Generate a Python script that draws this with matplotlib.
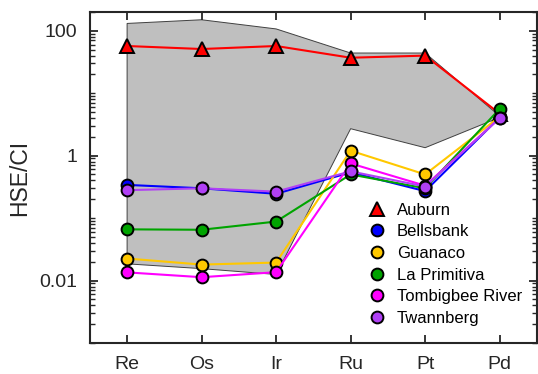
import numpy as np
import matplotlib
matplotlib.use("Agg")
import matplotlib.pyplot as plt
from matplotlib.ticker import LogLocator, FixedLocator, FixedFormatter, NullFormatter

plt.rcParams['font.family'] = ['Liberation Sans', 'DejaVu Sans']

elements = ["Re", "Os", "Ir", "Ru", "Pt", "Pd"]

# grey field (range of values)
band_upper = [131, 150, 107, 44, 44, 4.3]
band_lower = [0.0185, 0.0155, 0.0125, 2.7, 1.34, 4.1]

auburn = [57, 51, 57, 37, 40, 4.7]
bellsbank = [0.34, 0.30, 0.245, 0.54, 0.27, 4.1]
guanaco = [0.0225, 0.018, 0.0194, 1.2, 0.50, 4.2]
la_primitiva = [0.066, 0.065, 0.088, 0.50, 0.30, 5.6]
tombigbee = [0.0135, 0.0113, 0.0136, 0.75, 0.33, 4.0]
twannberg = [0.28, 0.30, 0.265, 0.56, 0.32, 4.0]

series = [
    ("Bellsbank", bellsbank, "#0000ff"),
    ("Guanaco", guanaco, "#ffc800"),
    ("La Primitiva", la_primitiva, "#00a400"),
    ("Tombigbee River", tombigbee, "#ff00ff"),
    ("Twannberg", twannberg, "#b040f5"),
]

x = np.arange(1, len(elements) + 1)

fig = plt.figure(figsize=(5.38, 3.74), dpi=100)
ax = fig.add_axes([0.167, 0.083, 0.831, 0.885])

poly_x = np.concatenate([x, x[::-1]])
poly_y = np.concatenate([band_upper, band_lower[::-1]])
ax.fill(poly_x, poly_y, facecolor="#bfbfbf", edgecolor="#404040", linewidth=0.7, zorder=1)

ax.plot(x, auburn, color="#ff0000", lw=1.5, marker="^", markersize=10,
        markerfacecolor="#ff0000", markeredgecolor="black", markeredgewidth=1.4,
        label="Auburn", zorder=3)
for name, vals, col in series:
    ax.plot(x, vals, color=col, lw=1.5, marker="o", markersize=8.5,
            markerfacecolor=col, markeredgecolor="black", markeredgewidth=1.4,
            label=name, zorder=3)

ax.set_yscale("log")
ax.set_ylim(0.001, 200)
ax.set_xlim(0.5, 6.5)

ax.set_xticks(x)
ax.set_xticklabels(elements)
ax.yaxis.set_major_locator(FixedLocator([0.01, 1, 100]))
ax.yaxis.set_major_formatter(FixedFormatter(["0.01", "1", "100"]))
ax.yaxis.set_minor_locator(LogLocator(base=10, subs=np.arange(1, 10), numticks=20))
ax.yaxis.set_minor_formatter(NullFormatter())

ax.tick_params(axis="both", which="both", direction="in", top=True, right=True,
               colors="#262626", labelcolor="#262626")
ax.tick_params(axis="both", which="major", length=6, width=1.3, labelsize=14)
ax.tick_params(axis="y", which="minor", length=3.5, width=1.0)
ax.tick_params(axis="y", which="major", pad=9)
ax.tick_params(axis="x", which="major", pad=9.5)

for sp in ax.spines.values():
    sp.set_linewidth(1.5)
    sp.set_color("#262626")

ax.set_ylabel("HSE/CI", fontsize=16.5, color="#262626", labelpad=6)

leg = ax.legend(loc="center left", bbox_to_anchor=(0.608, 0.238), frameon=False,
                fontsize=12, handlelength=1.0, handletextpad=0.7, labelspacing=0.4,
                borderaxespad=0)
for h in leg.get_lines():
    h.set_linestyle("none")

fig.savefig("out.png", dpi=100)
